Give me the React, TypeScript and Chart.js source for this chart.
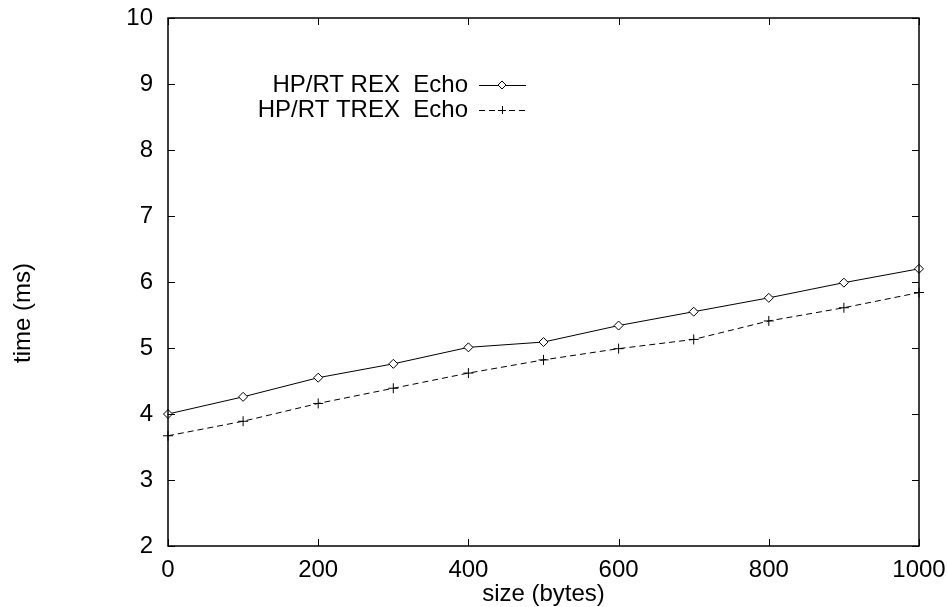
import React, { useEffect, useRef } from "react";
import { Chart, registerables } from "chart.js";

Chart.register(...registerables);

const sizes = [0, 100, 200, 300, 400, 500, 600, 700, 800, 900, 1000];
const rexEcho = [4.0, 4.26, 4.55, 4.76, 5.01, 5.09, 5.34, 5.55, 5.76, 5.99, 6.2];
const trexEcho = [3.67, 3.89, 4.16, 4.39, 4.62, 4.82, 4.99, 5.13, 5.41, 5.61, 5.84];
const seriesLabels = ["HP/RT REX  Echo", "HP/RT TREX  Echo"];
const xTitle = "size (bytes)";
const yTitle = "time (ms)";

const FONT = "'Liberation Sans', Arial, Helvetica, sans-serif";
const FS = 24;

const framePlugin = {
  id: "frame",
  afterDraw(chart: any) {
    const { ctx, chartArea: a, scales } = chart;
    const xs = scales.x;
    const ys = scales.y;
    ctx.save();
    ctx.strokeStyle = "#000";
    ctx.lineWidth = 1.5;
    ctx.strokeRect(a.left, a.top, a.right - a.left, a.bottom - a.top);
    ctx.lineWidth = 1;
    const tl = 7;
    ctx.beginPath();
    xs.ticks.forEach((t: any) => {
      const px = Math.round(xs.getPixelForValue(t.value)) + 0.5;
      ctx.moveTo(px, a.bottom);
      ctx.lineTo(px, a.bottom - tl);
      ctx.moveTo(px, a.top);
      ctx.lineTo(px, a.top + tl);
    });
    ys.ticks.forEach((t: any) => {
      const py = Math.round(ys.getPixelForValue(t.value)) + 0.5;
      ctx.moveTo(a.left, py);
      ctx.lineTo(a.left + tl, py);
      ctx.moveTo(a.right, py);
      ctx.lineTo(a.right - tl, py);
    });
    ctx.stroke();

    // axis titles
    ctx.fillStyle = "#000";
    ctx.font = `${FS}px ${FONT}`;
    ctx.textAlign = "center";
    ctx.textBaseline = "middle";
    ctx.fillText(xTitle, (a.left + a.right) / 2, 594);
    ctx.save();
    ctx.translate(23, 313);
    ctx.rotate(-Math.PI / 2);
    ctx.fillText(yTitle, 0, 0);
    ctx.restore();

    // legend
    const rows = [85, 110];
    chart.data.datasets.forEach((ds: any, i: number) => {
      const y = rows[i];
      ctx.textAlign = "right";
      ctx.fillStyle = "#000";
      ctx.fillText(ds.label, 468, y);
      ctx.save();
      ctx.strokeStyle = "#000";
      ctx.lineWidth = 1;
      ctx.setLineDash(ds.borderDash || []);
      ctx.beginPath();
      ctx.moveTo(479, y + 0.5);
      ctx.lineTo(526, y + 0.5);
      ctx.stroke();
      ctx.setLineDash([]);
      const mx = 502;
      if (ds.pointStyle === "rectRot") {
        ctx.fillStyle = "#fff";
        ctx.beginPath();
        ctx.moveTo(mx, y - 4);
        ctx.lineTo(mx + 4, y);
        ctx.lineTo(mx, y + 4);
        ctx.lineTo(mx - 4, y);
        ctx.closePath();
        ctx.fill();
        ctx.stroke();
      } else {
        ctx.beginPath();
        ctx.moveTo(mx - 4, y + 0.5);
        ctx.lineTo(mx + 4, y + 0.5);
        ctx.moveTo(mx + 0.5, y - 4);
        ctx.lineTo(mx + 0.5, y + 4);
        ctx.stroke();
      }
      ctx.restore();
    });
    ctx.restore();
  },
};

export default function App() {
  const ref = useRef<HTMLCanvasElement>(null);
  useEffect(() => {
    document.body.style.margin = "0";
    const chart = new Chart(ref.current as HTMLCanvasElement, {
      type: "line",
      data: {
        datasets: [
          {
            label: seriesLabels[0],
            data: sizes.map((s, i) => ({ x: s, y: rexEcho[i] })),
            borderColor: "#000",
            borderWidth: 1,
            backgroundColor: "#fff",
            pointStyle: "rectRot",
            pointRadius: 4.5,
            pointBorderWidth: 1,
            pointBorderColor: "#000",
            pointBackgroundColor: "#fff",
            tension: 0,
            clip: false,
          } as any,
          {
            label: seriesLabels[1],
            data: sizes.map((s, i) => ({ x: s, y: trexEcho[i] })),
            borderColor: "#000",
            borderWidth: 1,
            borderDash: [6, 4],
            pointStyle: "cross",
            pointRadius: 5,
            pointBorderWidth: 1,
            pointBorderColor: "#000",
            tension: 0,
            clip: false,
          } as any,
        ],
      },
      options: {
        animation: false,
        responsive: false,
        devicePixelRatio: 1,
        layout: { padding: { left: 0, right: 28, top: 18, bottom: 0 } },
        plugins: { legend: { display: false }, tooltip: { enabled: false } },
        scales: {
          x: {
            type: "linear",
            min: 0,
            max: 1000,
            border: { display: false },
            grid: { display: false, drawTicks: false },
            ticks: {
              stepSize: 200,
              padding: 10,
              color: "#000",
              maxRotation: 0,
              font: { family: FONT, size: FS },
              callback: (v: any) => String(v),
            },
            afterFit(s: any) {
              s.height = 61;
              s.paddingLeft = 0;
              s.paddingRight = 0;
            },
          },
          y: {
            type: "linear",
            min: 2,
            max: 10,
            border: { display: false },
            grid: { display: false, drawTicks: false },
            ticks: {
              stepSize: 1,
              padding: 15,
              color: "#000",
              font: { family: FONT, size: FS },
              callback: (v: any) => String(v),
            },
            afterFit(s: any) {
              s.width = 168;
              s.paddingTop = 0;
              s.paddingBottom = 0;
            },
          },
        },
      },
      plugins: [framePlugin],
    });
    return () => chart.destroy();
  }, []);
  return (
    <div style={{ position: "absolute", left: 0, top: 0, width: 947, height: 607, background: "#fff" }}>
      <canvas ref={ref} width={947} height={607} />
    </div>
  );
}
